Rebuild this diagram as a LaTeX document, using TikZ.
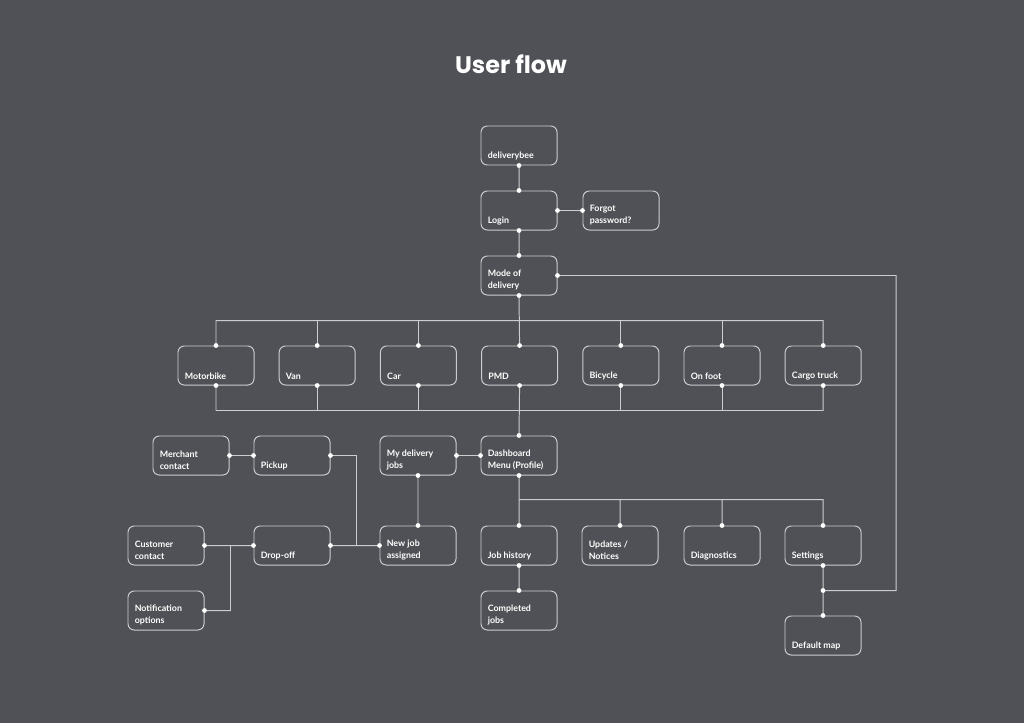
\documentclass[tikz,border=0pt]{standalone}
\usepackage{fontspec}
\setmainfont{Lato}
\newfontfamily\titlefont{Poppins}
\usetikzlibrary{calc}
\definecolor{bg}{RGB}{80,81,86}
\definecolor{wire}{RGB}{205,205,208}

\newcommand\flowbox[3]{%
  \node[box] (#1) at (#2) {};
  \node[boxtext] (#1-t) at ([shift={(7,-5.5)}]#1.south west) {#3};}

\begin{document}
\begin{tikzpicture}[x=0.025cm, y=-0.025cm, line cap=round,
    box/.style={draw=wire, line width=0.7pt, rounded corners=4.5pt,
      minimum width=1.9cm, minimum height=0.975cm, inner sep=0pt},
    boxtext/.style={anchor=south west, inner sep=0pt, align=left, text=white,
      font=\bfseries\fontsize{6.3}{8.5}\selectfont},
    link/.style={draw=wire, line width=0.7pt},
    dot/.style={fill=white}]
  \fill[bg] (0,0) rectangle (1024,723);
  \node[text=white, font=\titlefont\bfseries\fontsize{17}{20}\selectfont] (title) at (511,64) {User flow};

  % login part
  \flowbox{bee}{519,145.5}{deliverybee}
  \flowbox{login}{519,210.5}{Login}
  \flowbox{forgot}{621,210.5}{Forgot\\password?}
  \flowbox{mode}{519,275.5}{Mode of\\delivery}

  % vehicles
  \foreach \n/\t [count=\i from 0] in {motorbike/Motorbike, van/Van, car/Car, pmd/PMD,
      bicycle/Bicycle, onfoot/On foot, cargo/Cargo truck}
    \flowbox{\n}{216+101.2*\i,365.5}{\t};

  % jobs
  \flowbox{merchant}{191,455.5}{Merchant\\contact}
  \flowbox{pickup}{292,455.5}{Pickup}
  \flowbox{myjobs}{418,455.5}{My delivery\\jobs}
  \flowbox{dash}{519,455.5}{Dashboard\\Menu (Profile)}
  \flowbox{customer}{166,545.5}{Customer\\contact}
  \flowbox{dropoff}{292,545.5}{Drop-off}
  \flowbox{newjob}{418,545.5}{New job\\assigned}
  \flowbox{notif}{166,610.5}{Notification\\options}

  % dashboard menu
  \flowbox{jobhist}{519,545.5}{Job history}
  \flowbox{updates}{620,545.5}{Updates /\\Notices}
  \flowbox{diag}{722,545.5}{Diagnostics}
  \flowbox{settings}{823,545.5}{Settings}
  \flowbox{completed}{519,610.5}{Completed\\jobs}
  \flowbox{defmap}{823,635.5}{Default map}

  \coordinate (rim) at (896,0);
  \coordinate (sj) at ($(settings.south)!0.5!(defmap.north)$);

  \path[link]
    (bee.south) -- (login.north)
    (login.east) -- (forgot.west)
    (login.south) -- (mode.north)
    (mode.east) -- (mode.east -| rim) |- (sj)
    (mode.south) -- (pmd.north)
    (motorbike.north) -- ++(0,-25) -| (cargo.north)
    (motorbike.south) -- ++(0,25) -| (cargo.south)
    (pmd.south) -- (dash.north)
    (myjobs.east) -- (dash.west)
    (myjobs.south) -- (newjob.north)
    (merchant.east) -- (pickup.west)
    (pickup.east) -- ++(26,0) |- (newjob.west)
    (dropoff.east) -- (newjob.west)
    (customer.east) -- (dropoff.west)
    (notif.east) -- ++(26,0) |- (dropoff.west)
    (dash.south) -- (jobhist.north)
    (jobhist.north) -- ++(0,-26) -| (settings.north)
    (updates.north) -- ++(0,-26)
    (diag.north) -- ++(0,-26)
    (jobhist.south) -- (completed.north)
    (settings.south) -- (defmap.north);
  \foreach \n in {van, car, bicycle, onfoot}
    \path[link] (\n.north) -- ++(0,-25) (\n.south) -- ++(0,25);

  \foreach \p in {bee.south, login.north, login.east, forgot.west, login.south,
      mode.north, mode.east, mode.south, dash.north, dash.west, dash.south,
      myjobs.east, myjobs.south, newjob.north, newjob.west, merchant.east,
      pickup.west, pickup.east, customer.east, dropoff.west, dropoff.east,
      notif.east, jobhist.north, jobhist.south, completed.north, updates.north,
      diag.north, settings.north, settings.south, sj, defmap.north}
    \fill[dot] (\p) circle [radius=2.4];
  \foreach \n in {motorbike, van, car, pmd, bicycle, onfoot, cargo}
    \fill[dot] (\n.north) circle [radius=2.4] (\n.south) circle [radius=2.4];
\end{tikzpicture}
\end{document}
